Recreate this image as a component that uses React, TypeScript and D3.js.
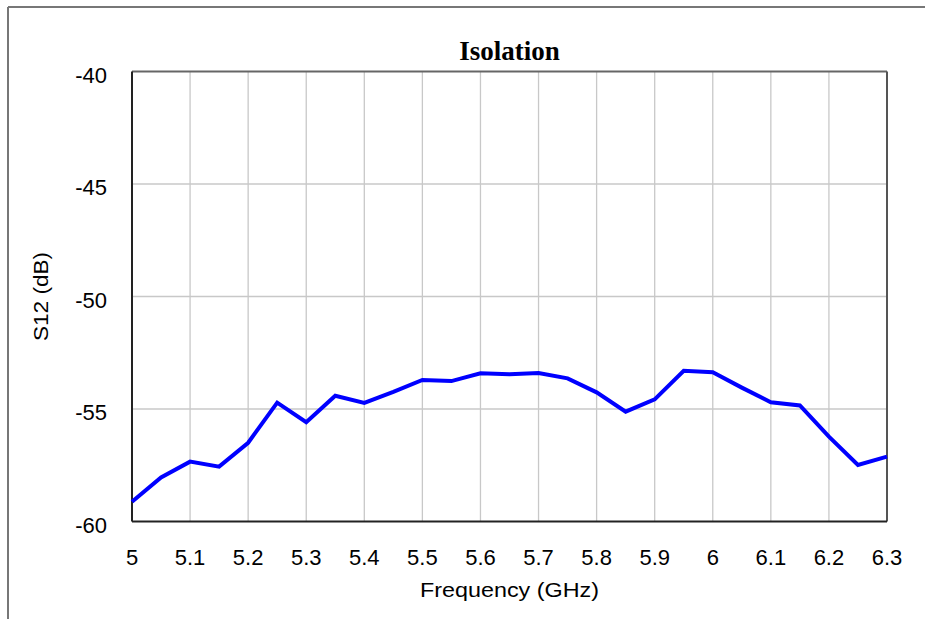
import React from "react";
import * as d3 from "d3";

const freqs = [5.0, 5.05, 5.1, 5.15, 5.2, 5.25, 5.3, 5.35, 5.4, 5.45, 5.5, 5.55, 5.6, 5.65, 5.7, 5.75, 5.8, 5.85, 5.9, 5.95, 6.0, 6.05, 6.1, 6.15, 6.2, 6.25, 6.3];
const s12 = [-59.12, -58.04, -57.34, -57.56, -56.5, -54.72, -55.59, -54.41, -54.73, -54.24, -53.71, -53.76, -53.41, -53.46, -53.4, -53.64, -54.26, -55.12, -54.57, -53.3, -53.37, -54.05, -54.7, -54.84, -56.23, -57.49, -57.12];
const xTicks = [5, 5.1, 5.2, 5.3, 5.4, 5.5, 5.6, 5.7, 5.8, 5.9, 6, 6.1, 6.2, 6.3];
const yTicks = [-40, -45, -50, -55, -60];

const W = 925;
const H = 619;
const M = { left: 132, top: 71.5, right: 887, bottom: 521.5 };

export default function App() {
  const x = d3.scaleLinear().domain([5, 6.3]).range([M.left, M.right]);
  const y = d3.scaleLinear().domain([-60, -40]).range([M.bottom, M.top]);
  const line = d3
    .line<number>()
    .x((_, i) => x(freqs[i]))
    .y((d) => y(d));
  const font = "'Liberation Sans', Arial, sans-serif";
  return (
    <svg
      width={W}
      height={H}
      style={{ position: "absolute", left: 0, top: 0 }}
      xmlns="http://www.w3.org/2000/svg"
    >
      <rect x={0} y={0} width={W} height={H} fill="#fff" />
      <line x1={8} y1={7} x2={W} y2={7} stroke="#777" strokeWidth={2} />
      <line x1={8} y1={7} x2={8} y2={H} stroke="#777" strokeWidth={2} />
      <text
        x={(M.left + M.right) / 2}
        y={60}
        textAnchor="middle"
        fontFamily="'Liberation Serif', 'Times New Roman', serif"
        fontWeight="bold"
        fontSize={27}
        fill="#000"
      >
        Isolation
      </text>
      {xTicks.slice(1, -1).map((t) => (
        <line key={"gx" + t} x1={x(t)} x2={x(t)} y1={M.top} y2={M.bottom} stroke="#c8c8c8" strokeWidth={1.3} />
      ))}
      {yTicks.slice(1, -1).map((t) => (
        <line key={"gy" + t} x1={M.left} x2={M.right} y1={y(t)} y2={y(t)} stroke="#c8c8c8" strokeWidth={1.3} />
      ))}
      <line x1={M.left} x2={M.right} y1={M.top} y2={M.top} stroke="#666" strokeWidth={2} />
      <line x1={M.right} x2={M.right} y1={M.top} y2={M.bottom} stroke="#555" strokeWidth={2} />
      <line x1={M.left} x2={M.left} y1={M.top} y2={M.bottom} stroke="#222" strokeWidth={2} />
      <line x1={M.left} x2={M.right} y1={M.bottom} y2={M.bottom} stroke="#222" strokeWidth={2} />
      <path d={line(s12) || ""} fill="none" stroke="#0000ff" strokeWidth={4} strokeLinejoin="miter" />
      {xTicks.map((t) => (
        <text key={"tx" + t} x={x(t)} y={565} textAnchor="middle" fontFamily={font} fontSize={22} fill="#000">
          {String(t)}
        </text>
      ))}
      {yTicks.map((t) => (
        <text key={"ty" + t} x={107} y={y(t) + 11} textAnchor="end" fontFamily={font} fontSize={22} fill="#000">
          {String(t)}
        </text>
      ))}
      <text
        x={(M.left + M.right) / 2}
        y={597}
        textAnchor="middle"
        fontFamily={font}
        fontSize={21}
        fill="#000"
        textLength={179}
        lengthAdjust="spacingAndGlyphs"
      >
        Frequency (GHz)
      </text>
      <text
        transform={`translate(48, ${(M.top + M.bottom) / 2}) rotate(-90)`}
        textAnchor="middle"
        fontFamily={font}
        fontSize={21}
        fill="#000"
        textLength={89}
        lengthAdjust="spacingAndGlyphs"
      >
        S12 (dB)
      </text>
    </svg>
  );
}
